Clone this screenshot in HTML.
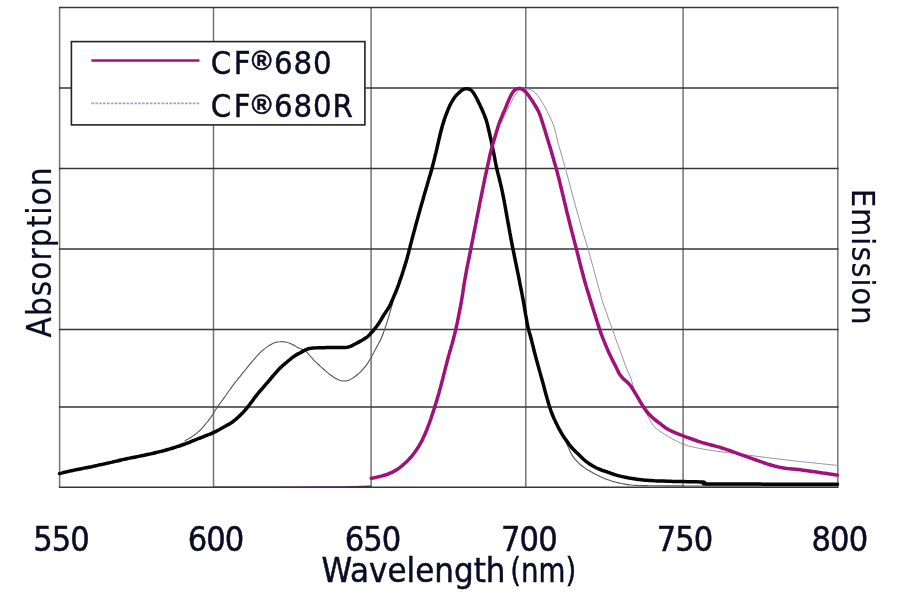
<!DOCTYPE html>
<html><head><meta charset="utf-8"><title>CF680 spectra</title>
<style>
html,body{margin:0;padding:0;background:#fff;}
body{width:900px;height:594px;overflow:hidden;position:relative;}
svg{position:absolute;left:0;top:0;display:block;}
text{font-family:"DejaVu Sans Condensed","DejaVu Sans","Liberation Sans",sans-serif;font-stretch:condensed;fill:#0b0b26;stroke:#0b0b26;stroke-width:0.45px;}
</style></head><body>
<svg width="900" height="594" viewBox="0 0 900 594">
<rect x="0" y="0" width="900" height="594" fill="#fff"/>
<g fill="none">
<line x1="59.6" y1="7.5" x2="59.6" y2="487.3" stroke="#747474" stroke-width="1.5"/>
<line x1="213.5" y1="7.5" x2="213.5" y2="487.3" stroke="#747474" stroke-width="1.5"/>
<line x1="371.1" y1="7.5" x2="371.1" y2="487.3" stroke="#747474" stroke-width="1.5"/>
<line x1="525.8" y1="7.5" x2="525.8" y2="487.3" stroke="#747474" stroke-width="1.5"/>
<line x1="683.1" y1="7.5" x2="683.1" y2="487.3" stroke="#747474" stroke-width="1.5"/>
<line x1="837.8" y1="7.5" x2="837.8" y2="487.3" stroke="#747474" stroke-width="1.5"/>
<line x1="58.9" y1="7.5" x2="838.5" y2="7.5" stroke="#363636" stroke-width="1.5"/>
<line x1="58.9" y1="88.0" x2="838.5" y2="88.0" stroke="#363636" stroke-width="1.5"/>
<line x1="58.9" y1="168.5" x2="838.5" y2="168.5" stroke="#363636" stroke-width="1.5"/>
<line x1="58.9" y1="249.1" x2="838.5" y2="249.1" stroke="#363636" stroke-width="1.5"/>
<line x1="58.9" y1="329.5" x2="838.5" y2="329.5" stroke="#363636" stroke-width="1.5"/>
<line x1="58.9" y1="406.9" x2="838.5" y2="406.9" stroke="#363636" stroke-width="1.5"/>
<line x1="58.9" y1="487.3" x2="838.5" y2="487.3" stroke="#363636" stroke-width="1.5"/>
</g>
<path d="M213.5 487.2 C232.9 487.2 306.4 487.2 330.0 487.1 C353.6 487.0 348.1 486.8 355.0 486.7 C361.9 486.6 368.5 486.4 371.2 486.4" fill="none" stroke="#4a3046" stroke-width="1.6"/>
<path d="M184.5 441.1 C184.9 440.9 186.2 440.1 187.1 439.6 C188.0 439.1 188.8 438.6 189.7 438.1 C190.5 437.5 191.4 437.0 192.2 436.5 C193.0 435.9 193.9 435.3 194.7 434.7 C195.5 434.2 196.3 433.6 197.1 432.9 C197.8 432.3 198.6 431.6 199.3 431.0 C200.0 430.3 200.7 429.6 201.4 428.8 C202.1 428.1 202.7 427.3 203.4 426.6 C204.0 425.8 204.7 425.1 205.3 424.3 C206.0 423.5 206.6 422.7 207.2 422.0 C207.9 421.2 208.5 420.4 209.1 419.6 C209.7 418.8 210.3 418.1 210.9 417.2 C211.5 416.4 212.0 415.6 212.6 414.7 C213.1 413.9 213.6 413.0 214.1 412.2 C214.7 411.3 215.2 410.5 215.7 409.6 C216.3 408.8 216.8 408.0 217.4 407.1 C217.9 406.3 218.5 405.5 219.1 404.7 C219.7 403.9 220.3 403.1 220.8 402.2 C221.4 401.4 222.0 400.6 222.6 399.8 C223.2 399.0 223.8 398.2 224.4 397.4 C224.9 396.6 225.5 395.8 226.1 395.0 C226.7 394.1 227.3 393.3 227.8 392.5 C228.4 391.7 229.0 390.9 229.6 390.0 C230.1 389.2 230.7 388.4 231.3 387.6 C231.9 386.8 232.5 386.0 233.1 385.2 C233.7 384.4 234.3 383.6 234.9 382.8 C235.6 382.0 236.2 381.3 236.8 380.5 C237.4 379.7 238.0 378.9 238.6 378.1 C239.3 377.3 239.9 376.5 240.5 375.8 C241.1 375.0 241.8 374.2 242.4 373.4 C243.0 372.6 243.6 371.9 244.3 371.1 C244.9 370.3 245.5 369.5 246.2 368.8 C246.8 368.0 247.4 367.2 248.1 366.4 C248.7 365.7 249.3 364.9 250.0 364.1 C250.6 363.4 251.3 362.6 251.9 361.8 C252.6 361.1 253.2 360.3 253.8 359.5 C254.5 358.8 255.2 358.0 255.8 357.3 C256.5 356.5 257.2 355.8 257.8 355.1 C258.5 354.3 259.2 353.6 259.9 352.9 C260.6 352.2 261.4 351.5 262.1 350.9 C262.9 350.2 263.6 349.5 264.4 348.9 C265.2 348.3 266.0 347.7 266.8 347.1 C267.6 346.5 268.4 345.9 269.2 345.4 C270.1 344.9 271.0 344.4 271.9 343.9 C272.7 343.5 273.7 343.1 274.6 342.8 C275.5 342.5 276.5 342.2 277.5 342.0 C278.4 341.8 279.4 341.7 280.4 341.7 C281.4 341.6 282.4 341.6 283.4 341.7 C284.4 341.8 285.4 342.0 286.3 342.2 C287.3 342.4 288.3 342.7 289.2 343.1 C290.1 343.4 291.1 343.8 292.0 344.2 C292.8 344.7 293.7 345.2 294.6 345.7 C295.5 346.1 296.3 346.7 297.2 347.2 C298.1 347.6 298.9 348.1 299.8 348.5 C300.8 348.8 301.7 349.1 302.6 349.5 C303.5 349.9 304.4 350.4 305.2 350.9 C305.9 351.5 306.7 352.2 307.4 352.9 C308.1 353.6 308.7 354.4 309.3 355.1 C310.0 355.9 310.6 356.6 311.3 357.4 C312.0 358.1 312.7 358.9 313.3 359.6 C314.0 360.3 314.7 361.0 315.5 361.7 C316.2 362.4 316.9 363.1 317.6 363.8 C318.4 364.5 319.1 365.1 319.8 365.8 C320.6 366.5 321.3 367.2 322.0 367.8 C322.8 368.5 323.5 369.2 324.3 369.8 C325.1 370.5 325.8 371.1 326.6 371.8 C327.3 372.4 328.1 373.0 328.9 373.7 C329.7 374.3 330.5 374.9 331.3 375.5 C332.1 376.1 332.9 376.7 333.7 377.2 C334.6 377.7 335.4 378.2 336.3 378.7 C337.2 379.2 338.1 379.6 339.0 380.0 C340.0 380.3 340.9 380.6 341.9 380.8 C342.8 381.0 343.8 381.1 344.8 381.0 C345.8 381.0 346.7 380.8 347.7 380.5 C348.6 380.2 349.5 379.8 350.4 379.4 C351.3 379.0 352.2 378.4 353.0 377.9 C353.9 377.4 354.7 376.8 355.5 376.2 C356.3 375.6 357.0 374.9 357.8 374.3 C358.6 373.6 359.3 373.0 360.0 372.3 C360.7 371.6 361.5 370.9 362.1 370.2 C362.8 369.4 363.5 368.7 364.1 367.9 C364.8 367.2 365.4 366.4 366.0 365.6 C366.6 364.8 367.1 363.9 367.7 363.1 C368.2 362.3 368.8 361.4 369.3 360.6 C369.8 359.7 370.4 358.9 370.9 358.0 C371.4 357.2 371.9 356.3 372.3 355.4 C372.8 354.5 373.2 353.6 373.7 352.7 C374.1 351.8 374.6 351.0 375.1 350.1 C375.5 349.2 376.0 348.3 376.5 347.4 C377.0 346.6 377.5 345.7 377.9 344.8 C378.4 343.9 378.9 343.0 379.3 342.2 C379.8 341.3 380.3 340.4 380.7 339.5 C381.1 338.6 381.5 337.7 381.9 336.7 C382.3 335.8 382.7 334.9 383.0 334.0 C383.4 333.0 383.7 332.1 384.0 331.1 C384.4 330.2 384.7 329.2 385.0 328.3 C385.3 327.4 385.7 326.4 386.0 325.5 C386.3 324.5 386.6 323.6 386.9 322.6 C387.2 321.7 387.5 320.7 387.8 319.7 C388.1 318.8 388.4 317.8 388.7 316.9 C388.9 315.9 389.2 314.9 389.5 314.0 C389.8 313.0 390.1 312.1 390.3 311.1 C390.6 310.1 390.9 309.2 391.2 308.2 C391.5 307.3 391.7 306.3 392.0 305.3 C392.3 304.4 392.6 303.4 392.8 302.5 C393.1 301.5 393.3 300.5 393.6 299.6 C393.8 298.6 394.1 297.6 394.3 296.7 C394.6 295.7 394.9 294.7 395.2 293.8 C395.4 292.8 395.7 291.9 396.1 290.9 C396.4 290.0 396.7 289.0 397.0 288.1 C397.4 287.1 397.7 286.2 398.1 285.3 C398.4 284.3 398.8 283.4 399.2 282.5 C399.5 281.5 399.9 280.6 400.2 279.7 C400.6 278.7 400.9 277.8 401.2 276.8 C401.6 275.9 401.9 274.9 402.2 274.0 C402.5 273.1 402.9 272.1 403.2 271.2 C403.5 270.2 403.8 269.2 404.1 268.3 C404.3 267.3 404.6 266.4 404.9 265.4 C405.2 264.5 405.5 263.5 405.7 262.5 C406.0 261.6 406.3 260.6 406.5 259.6 C406.8 258.7 407.1 257.7 407.3 256.7 C407.6 255.8 407.9 254.8 408.1 253.9 C408.4 252.9 408.6 251.9 408.9 251.0 C409.2 250.0 409.4 249.0 409.7 248.1 C409.9 247.1 410.2 246.1 410.4 245.2 C410.7 244.2 411.0 243.2 411.2 242.3 C411.5 241.3 411.7 240.3 412.0 239.4 C412.2 238.4 412.5 237.4 412.8 236.5 C413.0 235.5 413.3 234.5 413.5 233.6 C413.8 232.6 414.0 231.6 414.3 230.7 C414.6 229.7 414.8 228.7 415.1 227.8 C415.4 226.8 415.6 225.8 415.9 224.9 C416.1 223.9 416.4 222.9 416.7 222.0 C416.9 221.0 417.2 220.0 417.4 219.1 C417.7 218.1 418.0 217.1 418.2 216.2 C418.5 215.2 418.8 214.3 419.0 213.3 C419.3 212.3 419.5 211.4 419.8 210.4 C420.1 209.4 420.3 208.5 420.6 207.5 C420.8 206.5 421.1 205.6 421.4 204.6 C421.6 203.6 421.9 202.7 422.2 201.7 C422.4 200.7 422.7 199.8 422.9 198.8 C423.2 197.8 423.5 196.9 423.7 195.9 C424.0 195.0 424.3 194.0 424.5 193.0 C424.8 192.1 425.0 191.1 425.3 190.1 C425.6 189.2 425.8 188.2 426.1 187.2 C426.4 186.3 426.6 185.3 426.9 184.3 C427.2 183.4 427.4 182.4 427.7 181.5 C428.0 180.5 428.2 179.5 428.5 178.6 C428.8 177.6 429.0 176.6 429.3 175.7 C429.6 174.7 429.8 173.7 430.1 172.8 C430.4 171.8 430.7 170.9 430.9 169.9 C431.2 168.9 431.5 168.0 431.7 167.0 C432.0 166.0 432.3 165.1 432.6 164.1 C432.8 163.2 433.1 162.2 433.4 161.2 C433.7 160.3 433.9 159.3 434.2 158.4 C434.5 157.4 434.8 156.4 435.0 155.5 C435.3 154.5 435.6 153.5 435.9 152.6 C436.1 151.6 436.4 150.7 436.7 149.7 C437.0 148.7 437.3 147.8 437.5 146.8 C437.8 145.9 438.1 144.9 438.4 143.9 C438.6 143.0 438.9 142.0 439.2 141.1 C439.5 140.1 439.8 139.1 440.0 138.2 C440.3 137.2 440.6 136.3 440.9 135.3 C441.1 134.3 441.4 133.4 441.7 132.4 C442.0 131.4 442.2 130.5 442.5 129.5 C442.8 128.6 443.1 127.6 443.3 126.6 C443.6 125.7 443.9 124.7 444.2 123.8 C444.5 122.8 444.7 121.8 445.0 120.9 C445.3 119.9 445.6 119.0 445.9 118.0 C446.2 117.1 446.5 116.1 446.8 115.1 C447.1 114.2 447.4 113.2 447.7 112.3 C448.0 111.3 448.3 110.4 448.6 109.4 C449.0 108.5 449.3 107.6 449.7 106.6 C450.0 105.7 450.4 104.8 450.8 103.8 C451.2 102.9 451.6 102.0 452.1 101.2 C452.6 100.3 453.1 99.4 453.7 98.6 C454.2 97.8 454.8 97.0 455.4 96.2 C456.1 95.4 456.7 94.7 457.4 93.9 C458.1 93.2 458.8 92.5 459.6 91.9 C460.3 91.2 461.1 90.5 461.9 90.0 C462.7 89.5 463.6 88.9 464.4 88.6 C465.3 88.4 466.2 88.2 467.1 88.3 C468.0 88.5 468.9 88.9 469.7 89.4 C470.4 89.9 471.2 90.6 471.9 91.3 C472.5 92.0 473.2 92.8 473.7 93.6 C474.3 94.4 474.9 95.3 475.4 96.1 C475.9 97.0 476.4 97.8 476.9 98.7 C477.4 99.6 477.9 100.5 478.3 101.4 C478.8 102.2 479.2 103.1 479.7 104.0 C480.1 104.9 480.5 105.9 480.9 106.8 C481.3 107.7 481.7 108.6 482.1 109.5 C482.5 110.5 482.8 111.4 483.2 112.3 C483.5 113.3 483.9 114.2 484.2 115.1 C484.5 116.1 484.9 117.0 485.2 118.0 C485.5 118.9 485.8 119.9 486.1 120.8 C486.4 121.8 486.6 122.8 486.9 123.7 C487.2 124.7 487.4 125.7 487.7 126.6 C488.0 127.6 488.2 128.5 488.5 129.5 C488.7 130.5 489.0 131.5 489.2 132.4 C489.5 133.4 489.7 134.4 489.9 135.3 C490.2 136.3 490.4 137.3 490.6 138.3 C490.8 139.2 491.0 140.2 491.3 141.2 C491.5 142.2 491.7 143.1 491.9 144.1 C492.1 145.1 492.3 146.1 492.5 147.1 C492.7 148.0 492.9 149.0 493.0 150.0 C493.2 151.0 493.4 152.0 493.6 153.0 C493.8 153.9 494.0 154.9 494.2 155.9 C494.4 156.9 494.6 157.9 494.8 158.8 C495.0 159.8 495.2 160.8 495.4 161.8 C495.6 162.8 495.7 163.7 496.0 164.7 C496.2 165.7 496.4 166.7 496.6 167.7 C496.8 168.6 497.0 169.6 497.2 170.6 C497.4 171.6 497.7 172.5 497.9 173.5 C498.1 174.5 498.4 175.5 498.6 176.4 C498.8 177.4 499.1 178.4 499.3 179.3 C499.5 180.3 499.8 181.3 500.0 182.3 C500.3 183.2 500.5 184.2 500.7 185.2 C501.0 186.1 501.2 187.1 501.4 188.1 C501.6 189.1 501.9 190.0 502.1 191.0 C502.3 192.0 502.5 193.0 502.7 193.9 C502.9 194.9 503.1 195.9 503.3 196.9 C503.5 197.9 503.7 198.8 503.9 199.8 C504.1 200.8 504.3 201.8 504.5 202.8 C504.7 203.8 504.9 204.7 505.1 205.7 C505.3 206.7 505.4 207.7 505.6 208.7 C505.8 209.6 506.0 210.6 506.2 211.6 C506.3 212.6 506.5 213.6 506.7 214.6 C506.9 215.6 507.1 216.5 507.2 217.5 C507.4 218.5 507.6 219.5 507.8 220.5 C507.9 221.5 508.1 222.4 508.3 223.4 C508.5 224.4 508.6 225.4 508.8 226.4 C509.0 227.4 509.2 228.3 509.3 229.3 C509.5 230.3 509.7 231.3 509.9 232.3 C510.0 233.3 510.2 234.3 510.4 235.2 C510.6 236.2 510.8 237.2 510.9 238.2 C511.1 239.2 511.3 240.2 511.5 241.1 C511.7 242.1 511.8 243.1 512.0 244.1 C512.2 245.1 512.4 246.1 512.6 247.0 C512.8 248.0 513.0 249.0 513.1 250.0 C513.3 251.0 513.5 251.9 513.7 252.9 C513.9 253.9 514.1 254.9 514.3 255.9 C514.5 256.9 514.7 257.8 514.9 258.8 C515.1 259.8 515.3 260.8 515.5 261.8 C515.7 262.7 515.8 263.7 516.0 264.7 C516.2 265.7 516.4 266.7 516.6 267.6 C516.8 268.6 517.0 269.6 517.2 270.6 C517.4 271.6 517.6 272.5 517.8 273.5 C518.0 274.5 518.2 275.5 518.4 276.5 C518.6 277.4 518.8 278.4 519.0 279.4 C519.2 280.4 519.4 281.4 519.6 282.3 C519.8 283.3 520.0 284.3 520.2 285.3 C520.4 286.3 520.6 287.2 520.8 288.2 C521.0 289.2 521.2 290.2 521.4 291.2 C521.6 292.1 521.8 293.1 522.0 294.1 C522.2 295.1 522.4 296.1 522.6 297.1 C522.8 298.0 523.0 299.0 523.2 300.0 C523.3 301.0 523.5 302.0 523.7 302.9 C523.9 303.9 524.1 304.9 524.3 305.9 C524.5 306.9 524.7 307.9 524.8 308.8 C525.0 309.8 525.2 310.8 525.4 311.8 C525.6 312.8 525.8 313.7 525.9 314.7 C526.1 315.7 526.3 316.7 526.5 317.7 C526.7 318.7 526.9 319.6 527.1 320.6 C527.3 321.6 527.5 322.6 527.7 323.6 C527.8 324.5 528.1 325.5 528.3 326.5 C528.5 327.5 528.7 328.5 528.9 329.4 C529.1 330.4 529.3 331.4 529.6 332.4 C529.8 333.3 530.0 334.3 530.2 335.3 C530.5 336.3 530.7 337.2 530.9 338.2 C531.2 339.2 531.4 340.1 531.7 341.1 C531.9 342.1 532.2 343.0 532.4 344.0 C532.7 345.0 532.9 346.0 533.2 346.9 C533.4 347.9 533.7 348.9 533.9 349.8 C534.2 350.8 534.4 351.8 534.7 352.7 C535.0 353.7 535.2 354.7 535.5 355.6 C535.7 356.6 536.0 357.6 536.2 358.5 C536.5 359.5 536.8 360.5 537.0 361.4 C537.3 362.4 537.6 363.3 537.8 364.3 C538.1 365.3 538.3 366.2 538.6 367.2 C538.9 368.2 539.1 369.1 539.4 370.1 C539.7 371.1 539.9 372.0 540.2 373.0 C540.5 374.0 540.7 374.9 541.0 375.9 C541.2 376.9 541.5 377.8 541.8 378.8 C542.0 379.7 542.3 380.7 542.6 381.7 C542.8 382.6 543.1 383.6 543.3 384.6 C543.6 385.5 543.8 386.5 544.1 387.5 C544.4 388.4 544.6 389.4 544.9 390.4 C545.1 391.3 545.4 392.3 545.7 393.3 C545.9 394.2 546.2 395.2 546.4 396.2 C546.7 397.1 547.0 398.1 547.2 399.1 C547.5 400.0 547.8 401.0 548.1 401.9 C548.4 402.9 548.6 403.9 548.9 404.8 C549.2 405.8 549.5 406.7 549.8 407.7 C550.2 408.6 550.5 409.6 550.8 410.5 C551.2 411.4 551.5 412.4 551.9 413.3 C552.2 414.2 552.6 415.2 553.0 416.1 C553.4 417.0 553.8 417.9 554.2 418.8 C554.6 419.8 555.0 420.7 555.4 421.6 C555.9 422.5 556.3 423.4 556.7 424.3 C557.2 425.2 557.6 426.1 558.1 427.0 C558.5 427.9 559.0 428.7 559.5 429.6 C559.9 430.5 560.4 431.4 560.9 432.3 C561.3 433.1 561.8 434.0 562.3 434.9 C562.8 435.8 563.2 436.7 563.7 437.6 C564.2 438.4 564.6 439.3 565.1 440.2 C565.5 441.1 566.0 442.0 566.4 442.9 C566.8 443.8 567.2 444.7 567.6 445.7 C568.0 446.6 568.4 447.5 568.8 448.4 C569.2 449.3 569.5 450.3 570.0 451.2 C570.4 452.1 570.8 453.0 571.3 453.8 C571.8 454.7 572.4 455.5 572.9 456.4 C573.5 457.2 574.1 458.0 574.7 458.8 C575.4 459.5 576.0 460.3 576.7 461.0 C577.4 461.8 578.0 462.5 578.8 463.2 C579.5 463.9 580.2 464.5 581.0 465.2 C581.8 465.8 582.6 466.4 583.4 467.0 C584.2 467.6 585.0 468.1 585.8 468.7 C586.7 469.2 587.5 469.7 588.4 470.3 C589.3 470.8 590.1 471.3 591.0 471.8 C591.9 472.3 592.7 472.7 593.6 473.2 C594.5 473.7 595.4 474.1 596.3 474.6 C597.2 475.0 598.1 475.5 599.0 475.9 C599.9 476.3 600.8 476.7 601.7 477.2 C602.6 477.6 603.5 478.0 604.5 478.4 C605.4 478.7 606.3 479.1 607.2 479.5 C608.2 479.8 609.1 480.2 610.1 480.5 C611.0 480.8 612.0 481.1 612.9 481.4 C613.9 481.7 614.8 481.9 615.8 482.2 C616.8 482.5 617.7 482.7 618.7 482.9 C619.7 483.1 620.7 483.3 621.7 483.5 C622.6 483.7 623.6 483.9 624.6 484.1 C625.6 484.3 626.6 484.5 627.5 484.6 C628.5 484.8 629.5 484.9 630.5 485.0 C631.5 485.1 632.5 485.2 633.5 485.2 C634.5 485.3 635.5 485.3 636.5 485.4 C637.5 485.4 638.5 485.5 639.5 485.5 C640.5 485.5 641.5 485.5 642.5 485.6 C643.5 485.6 644.5 485.6 645.5 485.6 C646.5 485.6 647.5 485.7 648.5 485.7 C649.5 485.7 650.5 485.7 651.5 485.7 C652.5 485.7 653.5 485.8 654.5 485.8 C655.5 485.8 656.5 485.8 657.5 485.8 C658.5 485.8 659.5 485.8 660.5 485.8 C661.5 485.8 662.5 485.8 663.5 485.9 C664.5 485.9 665.5 485.9 666.5 485.9 C667.5 485.9 668.5 485.9 669.5 485.9 C670.5 485.9 671.5 485.9 672.5 485.9 C673.5 485.9 674.5 485.9 675.5 485.9 C676.5 485.9 677.5 485.9 678.5 485.9 C679.5 485.9 680.5 485.9 681.5 485.9 C682.5 485.9 683.5 486.0 684.5 486.0 C685.5 486.0 686.5 486.0 687.5 486.0 C688.5 486.0 689.5 486.0 690.5 486.0 C691.5 486.0 692.5 486.0 693.5 486.0 C694.5 486.0 695.5 486.0 696.5 486.0 C697.5 486.0 698.5 486.0 699.5 486.0 C700.5 486.0 701.5 486.0 702.5 486.0 C703.5 486.0 704.5 486.0 705.5 486.0 C706.5 486.0 707.5 486.0 708.5 486.0 C709.5 486.0 710.5 486.0 711.5 486.0 C712.5 486.0 713.5 486.0 714.5 486.0 C715.5 486.0 716.5 486.0 717.5 486.0 C718.5 486.0 719.5 486.0 720.5 486.0 C721.5 486.0 722.5 486.0 723.5 486.0 C724.5 486.0 725.5 486.0 726.5 486.0 C727.5 486.0 728.5 486.0 729.5 486.0 C730.5 486.0 731.5 486.0 732.5 486.0 C733.5 486.0 734.5 486.0 735.5 486.0 C736.5 486.0 737.5 486.0 738.5 486.0 C739.5 486.0 740.5 486.0 741.5 486.0 C742.5 486.0 743.5 486.0 744.5 486.0 C745.5 486.0 746.5 486.0 747.5 486.0 C748.5 486.0 749.5 486.0 750.5 486.0 C751.5 486.0 752.5 486.0 753.5 486.0 C754.5 486.0 755.5 486.0 756.5 486.0 C757.5 486.0 758.5 486.0 759.5 486.0 C760.5 486.0 761.5 486.0 762.5 486.0 C763.5 486.0 764.5 486.0 765.5 486.0 C766.5 486.0 767.5 486.0 768.5 486.0 C769.5 486.0 770.5 486.0 771.5 486.0 C772.5 486.0 773.5 486.0 774.5 486.0 C775.5 486.0 776.5 486.0 777.5 486.0 C778.5 486.0 779.5 486.0 780.5 486.0 C781.5 486.0 782.5 486.0 783.5 486.0 C784.5 486.0 785.5 486.0 786.5 486.0 C787.5 486.0 788.5 486.0 789.5 486.0 C790.5 486.0 791.5 486.0 792.5 486.0 C793.5 486.0 794.5 486.0 795.5 486.0 C796.5 486.0 797.5 486.0 798.5 486.0 C799.5 486.0 800.5 486.0 801.5 486.0 C802.5 486.0 803.5 486.0 804.5 486.0 C805.5 486.0 806.5 486.0 807.5 486.0 C808.5 486.0 809.5 486.0 810.5 486.0 C811.5 486.0 812.5 486.0 813.5 486.0 C814.5 486.0 815.5 486.0 816.5 486.0 C817.5 486.0 818.5 486.0 819.5 486.0 C820.5 486.0 821.5 486.0 822.5 486.0 C823.5 486.0 824.5 486.0 825.5 486.0 C826.5 486.0 827.5 486.0 828.5 486.0 C829.5 486.0 830.5 486.0 831.5 486.0 C832.5 486.0 833.5 486.0 834.5 486.0 C835.5 486.0 837.0 486.0 837.5 486.0" fill="none" stroke="#555" stroke-width="1.1"/>
<path d="M494.1 140.0 C494.2 139.5 494.7 138.1 494.9 137.1 C495.2 136.2 495.5 135.2 495.8 134.2 C496.1 133.3 496.3 132.3 496.6 131.4 C496.9 130.4 497.2 129.4 497.5 128.5 C497.8 127.6 498.2 126.7 498.6 125.9 C499.1 125.1 499.6 124.5 500.1 123.7 C500.6 123.0 501.2 122.2 501.7 121.4 C502.2 120.6 502.6 119.7 503.1 118.8 C503.5 117.9 504.0 117.0 504.4 116.1 C504.8 115.2 505.3 114.3 505.7 113.4 C506.1 112.5 506.6 111.6 507.0 110.7 C507.5 109.8 507.9 108.9 508.3 108.0 C508.8 107.1 509.2 106.2 509.6 105.3 C510.1 104.4 510.5 103.5 511.0 102.6 C511.4 101.7 511.9 100.9 512.3 100.0 C512.8 99.1 513.2 98.2 513.7 97.3 C514.2 96.5 514.7 95.6 515.3 94.8 C515.8 93.9 516.4 93.1 517.1 92.4 C517.8 91.7 518.5 91.0 519.3 90.5 C520.1 90.0 521.0 89.6 522.0 89.3 C522.9 89.0 523.9 88.9 524.8 88.8 C525.8 88.8 526.8 88.8 527.8 89.0 C528.8 89.1 529.7 89.4 530.6 89.7 C531.5 90.1 532.4 90.6 533.2 91.1 C534.0 91.7 534.8 92.4 535.5 93.1 C536.2 93.8 536.8 94.5 537.4 95.3 C538.0 96.1 538.6 96.9 539.2 97.7 C539.8 98.5 540.3 99.4 540.9 100.2 C541.4 101.0 542.0 101.9 542.5 102.7 C543.0 103.6 543.5 104.4 544.0 105.3 C544.5 106.2 545.0 107.1 545.4 108.0 C545.9 108.8 546.3 109.7 546.8 110.6 C547.3 111.5 547.7 112.4 548.1 113.3 C548.6 114.2 549.0 115.1 549.5 116.0 C549.9 116.9 550.3 117.8 550.7 118.7 C551.2 119.6 551.6 120.5 552.0 121.4 C552.4 122.4 552.8 123.3 553.1 124.2 C553.5 125.1 553.8 126.1 554.1 127.0 C554.5 128.0 554.8 128.9 555.0 129.9 C555.3 130.9 555.5 131.8 555.8 132.8 C556.0 133.8 556.2 134.8 556.4 135.7 C556.6 136.7 556.8 137.7 557.1 138.7 C557.3 139.6 557.5 140.6 557.7 141.6 C558.0 142.6 558.2 143.5 558.5 144.5 C558.8 145.4 559.0 146.4 559.3 147.4 C559.6 148.3 559.9 149.3 560.2 150.2 C560.5 151.2 560.7 152.2 561.0 153.1 C561.3 154.1 561.6 155.0 561.9 156.0 C562.1 157.0 562.4 157.9 562.7 158.9 C563.0 159.8 563.3 160.8 563.5 161.8 C563.8 162.7 564.1 163.7 564.3 164.7 C564.6 165.6 564.9 166.6 565.2 167.5 C565.4 168.5 565.7 169.5 565.9 170.4 C566.2 171.4 566.5 172.4 566.7 173.3 C567.0 174.3 567.2 175.3 567.5 176.2 C567.8 177.2 568.0 178.2 568.3 179.1 C568.5 180.1 568.8 181.1 569.1 182.0 C569.3 183.0 569.6 184.0 569.8 184.9 C570.1 185.9 570.3 186.9 570.6 187.8 C570.9 188.8 571.1 189.8 571.4 190.7 C571.6 191.7 571.9 192.7 572.1 193.6 C572.4 194.6 572.7 195.6 572.9 196.5 C573.2 197.5 573.4 198.4 573.7 199.4 C574.0 200.4 574.2 201.3 574.5 202.3 C574.8 203.3 575.0 204.2 575.3 205.2 C575.5 206.2 575.8 207.1 576.1 208.1 C576.3 209.1 576.6 210.0 576.9 211.0 C577.1 212.0 577.4 212.9 577.7 213.9 C577.9 214.8 578.2 215.8 578.5 216.8 C578.7 217.7 579.0 218.7 579.3 219.7 C579.6 220.6 579.8 221.6 580.1 222.5 C580.4 223.5 580.7 224.5 581.0 225.4 C581.2 226.4 581.5 227.3 581.8 228.3 C582.1 229.3 582.4 230.2 582.7 231.2 C583.0 232.1 583.3 233.1 583.5 234.0 C583.8 235.0 584.1 236.0 584.4 236.9 C584.7 237.9 585.0 238.8 585.3 239.8 C585.6 240.7 585.9 241.7 586.2 242.7 C586.5 243.6 586.7 244.6 587.0 245.5 C587.3 246.5 587.6 247.4 587.9 248.4 C588.1 249.4 588.4 250.3 588.7 251.3 C589.0 252.2 589.2 253.2 589.5 254.2 C589.8 255.1 590.1 256.1 590.3 257.1 C590.6 258.0 590.9 259.0 591.1 260.0 C591.4 260.9 591.6 261.9 591.9 262.8 C592.2 263.8 592.4 264.8 592.7 265.7 C593.0 266.7 593.2 267.7 593.5 268.6 C593.8 269.6 594.0 270.6 594.3 271.5 C594.6 272.5 594.8 273.5 595.1 274.4 C595.3 275.4 595.6 276.4 595.9 277.3 C596.1 278.3 596.4 279.2 596.6 280.2 C596.9 281.2 597.2 282.1 597.4 283.1 C597.7 284.1 597.9 285.0 598.2 286.0 C598.5 287.0 598.7 287.9 599.0 288.9 C599.2 289.9 599.5 290.8 599.8 291.8 C600.0 292.8 600.3 293.7 600.6 294.7 C600.8 295.7 601.1 296.6 601.4 297.6 C601.7 298.5 602.0 299.5 602.2 300.5 C602.5 301.4 602.8 302.4 603.1 303.3 C603.4 304.3 603.8 305.2 604.1 306.2 C604.4 307.1 604.7 308.1 605.1 309.0 C605.4 309.9 605.7 310.9 606.1 311.8 C606.4 312.8 606.7 313.7 607.1 314.6 C607.4 315.6 607.8 316.5 608.1 317.5 C608.4 318.4 608.8 319.4 609.1 320.3 C609.4 321.2 609.8 322.2 610.1 323.1 C610.5 324.1 610.8 325.0 611.1 325.9 C611.5 326.9 611.8 327.8 612.2 328.8 C612.5 329.7 612.8 330.6 613.2 331.6 C613.5 332.5 613.8 333.5 614.2 334.4 C614.5 335.4 614.8 336.3 615.2 337.2 C615.5 338.2 615.8 339.1 616.2 340.1 C616.5 341.0 616.9 341.9 617.2 342.9 C617.6 343.8 617.9 344.8 618.3 345.7 C618.6 346.6 619.0 347.6 619.3 348.5 C619.7 349.4 620.1 350.4 620.4 351.3 C620.8 352.2 621.1 353.2 621.4 354.1 C621.8 355.1 622.1 356.0 622.4 356.9 C622.8 357.9 623.1 358.8 623.4 359.8 C623.7 360.7 624.0 361.7 624.3 362.6 C624.7 363.6 625.0 364.5 625.4 365.4 C625.7 366.4 626.1 367.3 626.5 368.2 C626.9 369.1 627.3 370.0 627.7 371.0 C628.2 371.9 628.6 372.8 629.0 373.7 C629.4 374.6 629.8 375.5 630.1 376.5 C630.5 377.4 630.9 378.3 631.2 379.3 C631.5 380.2 631.8 381.2 632.0 382.1 C632.3 383.1 632.5 384.1 632.8 385.0 C633.0 386.0 633.2 387.0 633.5 387.9 C633.8 388.9 634.0 389.9 634.4 390.8 C634.7 391.7 635.1 392.7 635.6 393.6 C636.0 394.4 636.5 395.3 637.0 396.2 C637.5 397.0 638.0 397.9 638.5 398.8 C639.0 399.6 639.5 400.5 640.0 401.4 C640.5 402.2 640.9 403.1 641.4 404.0 C641.9 404.9 642.3 405.8 642.8 406.7 C643.3 407.5 643.8 408.4 644.2 409.3 C644.7 410.2 645.1 411.1 645.6 412.0 C646.1 412.9 646.5 413.7 647.0 414.6 C647.5 415.5 647.9 416.4 648.4 417.3 C648.9 418.1 649.4 419.0 649.9 419.9 C650.4 420.8 650.8 421.6 651.3 422.5 C651.8 423.4 652.3 424.2 652.9 425.0 C653.5 425.8 654.1 426.6 654.8 427.3 C655.5 428.0 656.3 428.6 657.1 429.2 C657.9 429.8 658.7 430.4 659.5 431.0 C660.3 431.5 661.2 432.1 662.0 432.6 C662.8 433.2 663.7 433.7 664.5 434.3 C665.4 434.8 666.2 435.3 667.1 435.8 C667.9 436.4 668.8 436.9 669.7 437.4 C670.5 437.9 671.4 438.4 672.3 438.9 C673.1 439.4 674.0 439.8 674.9 440.3 C675.8 440.8 676.7 441.2 677.6 441.6 C678.5 442.1 679.4 442.5 680.3 442.9 C681.2 443.3 682.1 443.7 683.1 444.0 C684.0 444.4 684.9 444.7 685.9 445.1 C686.8 445.4 687.8 445.7 688.8 446.0 C689.7 446.2 690.7 446.5 691.6 446.7 C692.6 447.0 693.6 447.2 694.6 447.4 C695.5 447.6 696.5 447.8 697.5 448.0 C698.5 448.2 699.5 448.4 700.5 448.6 C701.4 448.7 702.4 448.9 703.4 449.1 C704.4 449.3 705.4 449.5 706.4 449.6 C707.3 449.8 708.3 450.0 709.3 450.1 C710.3 450.3 711.3 450.4 712.3 450.6 C713.3 450.7 714.3 450.9 715.3 451.0 C716.2 451.2 717.2 451.3 718.2 451.4 C719.2 451.5 720.2 451.7 721.2 451.8 C722.2 451.9 723.2 452.1 724.2 452.2 C725.2 452.3 726.2 452.4 727.2 452.5 C728.1 452.7 729.1 452.8 730.1 452.9 C731.1 453.0 732.1 453.1 733.1 453.3 C734.1 453.4 735.1 453.5 736.1 453.6 C737.1 453.8 738.1 453.9 739.1 454.0 C740.1 454.1 741.1 454.3 742.0 454.4 C743.0 454.5 744.0 454.6 745.0 454.8 C746.0 454.9 747.0 455.0 748.0 455.1 C749.0 455.3 750.0 455.4 751.0 455.5 C752.0 455.7 753.0 455.8 753.9 455.9 C754.9 456.0 755.9 456.2 756.9 456.3 C757.9 456.4 758.9 456.5 759.9 456.7 C760.9 456.8 761.9 456.9 762.9 457.0 C763.9 457.2 764.9 457.3 765.8 457.4 C766.8 457.6 767.8 457.7 768.8 457.8 C769.8 457.9 770.8 458.0 771.8 458.2 C772.8 458.3 773.8 458.4 774.8 458.5 C775.8 458.7 776.8 458.8 777.8 458.9 C778.7 459.0 779.7 459.2 780.7 459.3 C781.7 459.4 782.7 459.5 783.7 459.6 C784.7 459.7 785.7 459.9 786.7 460.0 C787.7 460.1 788.7 460.2 789.7 460.3 C790.7 460.4 791.7 460.6 792.7 460.7 C793.6 460.8 794.6 460.9 795.6 461.0 C796.6 461.1 797.6 461.2 798.6 461.3 C799.6 461.5 800.6 461.6 801.6 461.7 C802.6 461.8 803.6 461.9 804.6 462.0 C805.6 462.1 806.6 462.2 807.6 462.3 C808.6 462.4 809.6 462.5 810.5 462.6 C811.5 462.7 812.5 462.8 813.5 462.9 C814.5 463.0 815.5 463.1 816.5 463.2 C817.5 463.3 818.5 463.4 819.5 463.5 C820.5 463.6 821.5 463.8 822.5 463.9 C823.5 464.0 824.5 464.1 825.5 464.2 C826.5 464.3 827.5 464.4 828.5 464.5 C829.4 464.6 830.4 464.7 831.4 464.8 C832.4 464.9 833.4 465.0 834.4 465.1 C835.4 465.2 836.9 465.3 837.4 465.4" fill="none" stroke="#9a8fa2" stroke-width="1.0"/>
<path d="M59.5 473.6 C60.0 473.5 61.4 473.1 62.4 472.9 C63.4 472.6 64.4 472.4 65.3 472.2 C66.3 471.9 67.3 471.7 68.2 471.5 C69.2 471.2 70.2 471.0 71.2 470.8 C72.1 470.6 73.1 470.3 74.1 470.1 C75.1 469.9 76.1 469.7 77.0 469.5 C78.0 469.3 79.0 469.2 80.0 469.0 C81.0 468.8 81.9 468.6 82.9 468.4 C83.9 468.2 84.9 468.0 85.9 467.8 C86.9 467.6 87.8 467.5 88.8 467.3 C89.8 467.1 90.8 466.9 91.8 466.7 C92.7 466.4 93.7 466.2 94.7 466.0 C95.7 465.8 96.6 465.6 97.6 465.4 C98.6 465.2 99.6 465.0 100.5 464.7 C101.5 464.5 102.5 464.3 103.5 464.1 C104.5 463.9 105.4 463.6 106.4 463.4 C107.4 463.2 108.4 463.0 109.3 462.8 C110.3 462.5 111.3 462.3 112.3 462.1 C113.2 461.9 114.2 461.6 115.2 461.4 C116.1 461.2 117.1 460.9 118.1 460.7 C119.1 460.5 120.0 460.3 121.0 460.0 C122.0 459.8 123.0 459.6 123.9 459.4 C124.9 459.2 125.9 459.0 126.9 458.7 C127.9 458.5 128.8 458.3 129.8 458.1 C130.8 457.9 131.8 457.7 132.8 457.5 C133.7 457.3 134.7 457.2 135.7 457.0 C136.7 456.8 137.7 456.6 138.6 456.4 C139.6 456.2 140.6 456.0 141.6 455.8 C142.6 455.6 143.5 455.4 144.5 455.2 C145.5 455.0 146.5 454.7 147.4 454.5 C148.4 454.3 149.4 454.1 150.4 453.9 C151.3 453.7 152.3 453.4 153.3 453.2 C154.3 453.0 155.2 452.8 156.2 452.5 C157.2 452.3 158.2 452.1 159.1 451.8 C160.1 451.6 161.1 451.3 162.0 451.1 C163.0 450.8 164.0 450.6 164.9 450.3 C165.9 450.0 166.9 449.8 167.8 449.5 C168.8 449.2 169.7 448.9 170.7 448.6 C171.7 448.4 172.6 448.1 173.6 447.8 C174.5 447.5 175.5 447.2 176.4 446.9 C177.4 446.6 178.3 446.3 179.3 446.0 C180.2 445.7 181.2 445.3 182.1 445.0 C183.1 444.7 184.0 444.3 185.0 444.0 C185.9 443.6 186.8 443.3 187.8 442.9 C188.7 442.6 189.6 442.2 190.5 441.8 C191.5 441.4 192.4 441.1 193.3 440.7 C194.3 440.3 195.2 439.9 196.1 439.6 C197.0 439.2 198.0 438.8 198.9 438.4 C199.8 438.1 200.8 437.7 201.7 437.3 C202.6 437.0 203.5 436.6 204.5 436.2 C205.4 435.9 206.3 435.5 207.3 435.1 C208.2 434.8 209.1 434.4 210.1 434.1 C211.0 433.7 211.9 433.3 212.8 432.9 C213.7 432.5 214.6 432.0 215.5 431.6 C216.4 431.1 217.3 430.7 218.2 430.2 C219.0 429.7 219.9 429.2 220.8 428.7 C221.7 428.2 222.5 427.7 223.4 427.3 C224.3 426.8 225.2 426.3 226.1 425.8 C226.9 425.4 227.8 424.9 228.7 424.4 C229.5 423.9 230.4 423.4 231.2 422.8 C232.0 422.2 232.9 421.7 233.6 421.0 C234.4 420.4 235.2 419.8 236.0 419.2 C236.7 418.5 237.5 417.8 238.2 417.2 C238.9 416.5 239.7 415.8 240.4 415.1 C241.1 414.4 241.8 413.7 242.5 413.0 C243.2 412.2 243.9 411.5 244.5 410.8 C245.2 410.0 245.8 409.3 246.5 408.5 C247.1 407.7 247.8 406.9 248.4 406.2 C249.0 405.4 249.6 404.6 250.2 403.8 C250.8 403.0 251.4 402.2 252.0 401.4 C252.6 400.6 253.2 399.7 253.8 398.9 C254.3 398.1 254.9 397.3 255.6 396.6 C256.2 395.8 256.8 395.0 257.4 394.2 C258.0 393.4 258.7 392.7 259.3 391.9 C260.0 391.1 260.6 390.4 261.3 389.6 C261.9 388.9 262.6 388.1 263.3 387.3 C263.9 386.6 264.6 385.8 265.2 385.1 C265.9 384.3 266.5 383.6 267.2 382.8 C267.8 382.1 268.5 381.3 269.1 380.5 C269.8 379.8 270.4 379.0 271.1 378.2 C271.7 377.5 272.4 376.7 273.0 375.9 C273.6 375.2 274.3 374.4 274.9 373.7 C275.6 372.9 276.2 372.1 276.9 371.4 C277.6 370.6 278.2 369.9 278.9 369.2 C279.6 368.4 280.3 367.7 281.0 367.1 C281.8 366.4 282.5 365.7 283.3 365.1 C284.0 364.4 284.8 363.8 285.6 363.1 C286.3 362.5 287.1 361.9 287.9 361.2 C288.7 360.6 289.4 359.9 290.2 359.3 C291.0 358.7 291.7 358.0 292.5 357.4 C293.3 356.8 294.1 356.2 294.9 355.7 C295.8 355.1 296.6 354.6 297.5 354.1 C298.4 353.6 299.3 353.2 300.2 352.8 C301.1 352.3 301.9 351.9 302.8 351.4 C303.7 350.9 304.5 350.3 305.4 349.9 C306.3 349.5 307.2 349.1 308.1 348.8 C309.1 348.5 310.0 348.3 311.0 348.2 C312.0 348.0 313.0 348.0 314.0 347.9 C315.0 347.8 316.0 347.8 317.0 347.8 C318.0 347.7 319.0 347.7 320.0 347.7 C321.0 347.7 322.0 347.7 323.0 347.7 C324.0 347.7 325.0 347.6 326.0 347.6 C327.0 347.6 328.0 347.6 329.0 347.6 C330.0 347.6 331.0 347.6 332.0 347.6 C333.0 347.6 334.0 347.6 335.0 347.6 C336.0 347.6 337.0 347.6 338.0 347.6 C339.0 347.6 340.0 347.6 341.0 347.6 C342.0 347.6 343.0 347.6 344.0 347.5 C345.0 347.5 346.0 347.4 347.0 347.3 C347.9 347.1 348.9 346.9 349.8 346.6 C350.8 346.3 351.6 345.8 352.5 345.4 C353.4 344.9 354.3 344.4 355.2 344.0 C356.1 343.5 356.9 343.1 357.8 342.6 C358.7 342.1 359.6 341.6 360.5 341.1 C361.3 340.7 362.2 340.2 363.1 339.6 C363.9 339.1 364.8 338.6 365.6 338.0 C366.4 337.5 367.2 336.9 368.0 336.2 C368.7 335.6 369.4 334.9 370.1 334.1 C370.8 333.4 371.4 332.7 372.1 331.9 C372.8 331.2 373.4 330.4 374.0 329.6 C374.7 328.9 375.3 328.1 375.9 327.3 C376.6 326.5 377.2 325.7 377.7 324.9 C378.3 324.1 378.9 323.3 379.4 322.4 C379.9 321.6 380.5 320.7 381.0 319.9 C381.5 319.0 382.0 318.1 382.5 317.3 C383.0 316.4 383.5 315.6 384.0 314.7 C384.6 313.9 385.1 313.0 385.7 312.2 C386.2 311.4 386.8 310.5 387.4 309.7 C387.9 308.9 388.5 308.1 389.0 307.2 C389.5 306.3 389.9 305.5 390.4 304.6 C390.8 303.7 391.1 302.7 391.5 301.8 C391.9 300.9 392.3 300.0 392.7 299.1 C393.1 298.1 393.5 297.2 393.9 296.3 C394.3 295.4 394.7 294.5 395.1 293.5 C395.5 292.6 395.9 291.7 396.3 290.8 C396.6 289.8 397.0 288.9 397.3 288.0 C397.7 287.0 398.0 286.1 398.4 285.2 C398.7 284.2 399.0 283.3 399.4 282.3 C399.7 281.4 400.0 280.4 400.3 279.5 C400.7 278.5 401.0 277.6 401.3 276.7 C401.6 275.7 401.9 274.8 402.3 273.8 C402.6 272.9 402.9 271.9 403.2 271.0 C403.5 270.0 403.8 269.1 404.1 268.1 C404.4 267.1 404.7 266.2 405.0 265.2 C405.3 264.3 405.6 263.3 405.9 262.4 C406.2 261.4 406.4 260.4 406.7 259.5 C407.0 258.5 407.3 257.6 407.5 256.6 C407.8 255.6 408.1 254.7 408.3 253.7 C408.6 252.7 408.8 251.8 409.0 250.8 C409.3 249.8 409.5 248.9 409.8 247.9 C410.0 246.9 410.3 246.0 410.5 245.0 C410.8 244.0 411.0 243.0 411.3 242.1 C411.5 241.1 411.8 240.1 412.0 239.2 C412.3 238.2 412.6 237.2 412.8 236.3 C413.1 235.3 413.3 234.3 413.6 233.4 C413.8 232.4 414.1 231.4 414.4 230.5 C414.6 229.5 414.9 228.6 415.1 227.6 C415.4 226.6 415.7 225.7 415.9 224.7 C416.2 223.7 416.4 222.8 416.7 221.8 C417.0 220.8 417.2 219.9 417.5 218.9 C417.8 217.9 418.0 217.0 418.3 216.0 C418.6 215.0 418.8 214.1 419.1 213.1 C419.4 212.1 419.6 211.2 419.9 210.2 C420.2 209.3 420.4 208.3 420.7 207.3 C421.0 206.4 421.2 205.4 421.5 204.4 C421.8 203.5 422.1 202.5 422.3 201.6 C422.6 200.6 422.9 199.6 423.2 198.7 C423.4 197.7 423.7 196.8 424.0 195.8 C424.3 194.8 424.5 193.9 424.8 192.9 C425.1 192.0 425.4 191.0 425.7 190.0 C425.9 189.1 426.2 188.1 426.5 187.2 C426.8 186.2 427.1 185.2 427.4 184.3 C427.6 183.3 427.9 182.4 428.2 181.4 C428.5 180.4 428.8 179.5 429.0 178.5 C429.3 177.6 429.6 176.6 429.9 175.6 C430.2 174.7 430.5 173.7 430.7 172.8 C431.0 171.8 431.3 170.8 431.6 169.9 C431.8 168.9 432.1 167.9 432.3 167.0 C432.6 166.0 432.8 165.0 433.1 164.1 C433.3 163.1 433.6 162.1 433.8 161.2 C434.1 160.2 434.3 159.2 434.5 158.3 C434.8 157.3 435.0 156.3 435.2 155.3 C435.5 154.4 435.7 153.4 436.0 152.4 C436.2 151.4 436.4 150.5 436.7 149.5 C436.9 148.5 437.1 147.6 437.3 146.6 C437.6 145.6 437.8 144.6 438.0 143.7 C438.3 142.7 438.5 141.7 438.7 140.7 C438.9 139.8 439.1 138.8 439.4 137.8 C439.6 136.8 439.8 135.9 440.0 134.9 C440.3 133.9 440.5 132.9 440.7 132.0 C441.0 131.0 441.2 130.0 441.5 129.1 C441.7 128.1 442.0 127.1 442.2 126.2 C442.5 125.2 442.8 124.2 443.1 123.3 C443.4 122.3 443.7 121.4 444.0 120.4 C444.3 119.5 444.6 118.5 445.0 117.6 C445.3 116.7 445.7 115.7 446.0 114.8 C446.4 113.8 446.7 112.9 447.1 112.0 C447.5 111.1 447.8 110.1 448.2 109.2 C448.6 108.3 449.0 107.4 449.4 106.5 C449.8 105.5 450.3 104.6 450.7 103.8 C451.2 102.9 451.6 102.0 452.2 101.1 C452.7 100.3 453.2 99.4 453.8 98.6 C454.3 97.8 454.9 97.0 455.6 96.2 C456.2 95.5 456.9 94.7 457.6 94.0 C458.3 93.3 459.0 92.6 459.8 92.0 C460.5 91.3 461.3 90.6 462.1 90.1 C462.9 89.6 463.8 89.2 464.7 88.9 C465.6 88.7 466.6 88.6 467.6 88.7 C468.5 88.7 469.4 89.0 470.2 89.5 C471.0 89.9 471.7 90.6 472.3 91.4 C472.9 92.1 473.5 92.9 474.0 93.8 C474.6 94.6 475.1 95.5 475.5 96.4 C476.0 97.2 476.5 98.1 477.0 99.0 C477.4 99.9 477.9 100.8 478.3 101.7 C478.7 102.6 479.2 103.5 479.6 104.4 C480.0 105.3 480.4 106.2 480.9 107.1 C481.3 108.0 481.7 108.9 482.1 109.8 C482.5 110.7 482.9 111.7 483.3 112.6 C483.7 113.5 484.1 114.4 484.5 115.4 C484.8 116.3 485.2 117.2 485.5 118.2 C485.9 119.1 486.2 120.0 486.5 121.0 C486.7 122.0 487.0 122.9 487.3 123.9 C487.5 124.9 487.7 125.8 488.0 126.8 C488.2 127.8 488.4 128.7 488.7 129.7 C488.9 130.7 489.1 131.7 489.3 132.6 C489.6 133.6 489.8 134.6 490.0 135.6 C490.2 136.5 490.4 137.5 490.7 138.5 C490.9 139.5 491.1 140.5 491.3 141.4 C491.5 142.4 491.7 143.4 491.9 144.4 C492.1 145.3 492.3 146.3 492.5 147.3 C492.7 148.3 492.9 149.3 493.1 150.2 C493.3 151.2 493.5 152.2 493.7 153.2 C493.9 154.2 494.1 155.1 494.3 156.1 C494.5 157.1 494.7 158.1 494.9 159.1 C495.0 160.1 495.2 161.0 495.4 162.0 C495.6 163.0 495.8 164.0 496.0 165.0 C496.2 165.9 496.4 166.9 496.6 167.9 C496.8 168.9 497.1 169.8 497.3 170.8 C497.5 171.8 497.8 172.8 498.0 173.7 C498.3 174.7 498.5 175.7 498.8 176.6 C499.0 177.6 499.3 178.6 499.5 179.5 C499.7 180.5 500.0 181.5 500.2 182.5 C500.4 183.4 500.7 184.4 500.9 185.4 C501.1 186.4 501.3 187.3 501.6 188.3 C501.8 189.3 502.0 190.3 502.2 191.2 C502.4 192.2 502.6 193.2 502.8 194.2 C503.0 195.2 503.2 196.1 503.4 197.1 C503.6 198.1 503.8 199.1 504.0 200.1 C504.2 201.0 504.3 202.0 504.5 203.0 C504.7 204.0 504.9 205.0 505.1 206.0 C505.2 206.9 505.4 207.9 505.6 208.9 C505.8 209.9 505.9 210.9 506.1 211.9 C506.3 212.9 506.5 213.8 506.6 214.8 C506.8 215.8 507.0 216.8 507.2 217.8 C507.3 218.8 507.5 219.7 507.7 220.7 C507.9 221.7 508.0 222.7 508.2 223.7 C508.4 224.7 508.6 225.7 508.8 226.6 C508.9 227.6 509.1 228.6 509.3 229.6 C509.5 230.6 509.7 231.6 509.8 232.5 C510.0 233.5 510.2 234.5 510.4 235.5 C510.6 236.5 510.7 237.5 510.9 238.4 C511.1 239.4 511.3 240.4 511.5 241.4 C511.7 242.4 511.9 243.3 512.0 244.3 C512.2 245.3 512.4 246.3 512.6 247.3 C512.8 248.3 513.0 249.2 513.2 250.2 C513.4 251.2 513.6 252.2 513.8 253.2 C514.0 254.1 514.2 255.1 514.4 256.1 C514.6 257.1 514.8 258.1 515.0 259.0 C515.2 260.0 515.4 261.0 515.6 262.0 C515.8 263.0 516.0 263.9 516.2 264.9 C516.4 265.9 516.6 266.9 516.8 267.9 C517.0 268.8 517.2 269.8 517.4 270.8 C517.6 271.8 517.8 272.8 518.0 273.7 C518.2 274.7 518.4 275.7 518.6 276.7 C518.8 277.7 519.0 278.6 519.2 279.6 C519.4 280.6 519.5 281.6 519.7 282.6 C519.9 283.5 520.1 284.5 520.3 285.5 C520.5 286.5 520.7 287.5 520.9 288.4 C521.1 289.4 521.3 290.4 521.5 291.4 C521.7 292.4 521.9 293.4 522.1 294.3 C522.3 295.3 522.4 296.3 522.6 297.3 C522.8 298.3 523.0 299.2 523.2 300.2 C523.4 301.2 523.5 302.2 523.7 303.2 C523.9 304.2 524.1 305.2 524.2 306.1 C524.4 307.1 524.6 308.1 524.7 309.1 C524.9 310.1 525.1 311.1 525.2 312.1 C525.4 313.0 525.6 314.0 525.7 315.0 C525.9 316.0 526.1 317.0 526.3 318.0 C526.4 319.0 526.6 319.9 526.8 320.9 C526.9 321.9 527.1 322.9 527.3 323.9 C527.5 324.9 527.7 325.8 527.9 326.8 C528.1 327.8 528.3 328.8 528.6 329.7 C528.8 330.7 529.1 331.6 529.4 332.6 C529.7 333.5 530.0 334.5 530.3 335.5 C530.5 336.4 530.8 337.4 531.0 338.4 C531.3 339.3 531.5 340.3 531.8 341.3 C532.0 342.2 532.2 343.2 532.5 344.2 C532.7 345.1 533.0 346.1 533.2 347.1 C533.5 348.1 533.7 349.0 533.9 350.0 C534.2 351.0 534.4 351.9 534.7 352.9 C534.9 353.9 535.2 354.8 535.4 355.8 C535.7 356.8 535.9 357.7 536.2 358.7 C536.5 359.7 536.7 360.6 537.0 361.6 C537.2 362.6 537.5 363.5 537.8 364.5 C538.0 365.5 538.3 366.4 538.6 367.4 C538.8 368.4 539.1 369.3 539.4 370.3 C539.7 371.2 539.9 372.2 540.2 373.2 C540.5 374.1 540.7 375.1 541.0 376.1 C541.3 377.0 541.5 378.0 541.8 378.9 C542.1 379.9 542.3 380.9 542.6 381.8 C542.9 382.8 543.1 383.8 543.4 384.7 C543.6 385.7 543.9 386.7 544.2 387.6 C544.4 388.6 544.7 389.6 544.9 390.5 C545.2 391.5 545.5 392.5 545.7 393.4 C546.0 394.4 546.2 395.4 546.5 396.3 C546.8 397.3 547.0 398.2 547.3 399.2 C547.6 400.2 547.9 401.1 548.1 402.1 C548.4 403.1 548.7 404.0 549.0 405.0 C549.3 405.9 549.6 406.9 549.9 407.8 C550.2 408.8 550.5 409.7 550.9 410.7 C551.2 411.6 551.6 412.5 551.9 413.5 C552.3 414.4 552.7 415.3 553.0 416.3 C553.4 417.2 553.8 418.1 554.2 419.0 C554.7 419.9 555.1 420.8 555.5 421.7 C555.9 422.6 556.4 423.5 556.8 424.4 C557.2 425.3 557.7 426.2 558.1 427.1 C558.6 428.0 559.1 428.9 559.6 429.8 C560.0 430.6 560.5 431.5 561.0 432.4 C561.5 433.3 562.0 434.1 562.5 435.0 C563.1 435.8 563.6 436.6 564.2 437.5 C564.7 438.3 565.3 439.1 565.9 439.9 C566.5 440.7 567.1 441.5 567.7 442.3 C568.3 443.2 568.8 444.0 569.4 444.8 C570.0 445.6 570.6 446.4 571.3 447.1 C571.9 447.9 572.6 448.6 573.3 449.3 C574.0 450.0 574.8 450.7 575.5 451.4 C576.2 452.1 576.9 452.8 577.6 453.5 C578.3 454.2 579.0 454.9 579.7 455.6 C580.4 456.3 581.1 457.1 581.9 457.7 C582.6 458.4 583.3 459.1 584.1 459.8 C584.8 460.4 585.6 461.0 586.4 461.7 C587.2 462.3 588.0 462.9 588.8 463.4 C589.6 464.0 590.5 464.6 591.3 465.1 C592.1 465.6 593.0 466.2 593.9 466.6 C594.7 467.1 595.6 467.6 596.5 468.0 C597.4 468.4 598.4 468.8 599.3 469.2 C600.2 469.6 601.2 469.9 602.1 470.3 C603.0 470.6 604.0 470.9 604.9 471.2 C605.9 471.5 606.8 471.9 607.8 472.2 C608.7 472.5 609.7 472.8 610.6 473.2 C611.6 473.5 612.5 473.8 613.4 474.2 C614.4 474.5 615.3 474.8 616.3 475.1 C617.2 475.4 618.2 475.7 619.2 475.9 C620.1 476.2 621.1 476.4 622.1 476.6 C623.1 476.8 624.0 477.0 625.0 477.2 C626.0 477.4 627.0 477.6 628.0 477.8 C629.0 477.9 629.9 478.1 630.9 478.3 C631.9 478.4 632.9 478.6 633.9 478.7 C634.9 478.9 635.9 479.0 636.9 479.2 C637.8 479.3 638.8 479.4 639.8 479.6 C640.8 479.7 641.8 479.8 642.8 479.9 C643.8 480.0 644.8 480.1 645.8 480.2 C646.8 480.3 647.8 480.3 648.8 480.4 C649.8 480.5 650.8 480.5 651.8 480.6 C652.8 480.6 653.8 480.7 654.8 480.8 C655.8 480.8 656.8 480.8 657.8 480.9 C658.8 480.9 659.8 481.0 660.8 481.0 C661.8 481.1 662.8 481.1 663.8 481.1 C664.8 481.2 665.8 481.2 666.8 481.2 C667.8 481.3 668.8 481.3 669.8 481.3 C670.8 481.3 671.8 481.4 672.8 481.4 C673.8 481.4 674.8 481.4 675.8 481.4 C676.8 481.5 677.8 481.5 678.8 481.5 C679.8 481.5 680.8 481.5 681.8 481.6 C682.8 481.6 683.8 481.6 684.8 481.6 C685.8 481.6 686.8 481.7 687.8 481.7 C688.8 481.7 689.8 481.7 690.8 481.7 C691.8 481.7 692.8 481.7 693.8 481.8 C694.8 481.8 695.8 481.8 696.8 481.8 C697.8 481.8 698.8 481.8 699.8 481.9 C700.7 481.9 701.8 482.0 702.7 482.1 C703.5 482.2 704.5 482.4 704.8 482.6 C705.2 482.7 705.0 483.0 704.8 483.1 C704.6 483.3 703.6 483.4 703.4 483.5 C703.2 483.6 703.3 483.7 703.7 483.8 C704.2 483.8 705.2 483.9 706.1 483.9 C706.9 483.9 708.0 483.9 709.0 484.0 C710.0 484.0 711.0 484.0 712.0 484.0 C713.0 484.0 714.0 484.0 715.0 484.0 C716.0 484.0 717.0 484.0 718.0 484.0 C719.0 484.0 720.0 484.1 721.0 484.1 C722.0 484.1 723.0 484.1 724.0 484.1 C725.0 484.1 726.0 484.1 727.0 484.1 C728.0 484.1 729.0 484.1 730.0 484.1 C731.0 484.1 732.0 484.1 733.0 484.1 C734.0 484.1 735.0 484.1 736.0 484.1 C737.0 484.1 738.0 484.1 739.0 484.1 C740.0 484.1 741.0 484.1 742.0 484.1 C743.0 484.1 744.0 484.1 745.0 484.1 C746.0 484.1 747.0 484.1 748.0 484.1 C749.0 484.1 750.0 484.1 751.0 484.1 C752.0 484.1 753.0 484.1 754.0 484.1 C755.0 484.1 756.0 484.1 757.0 484.1 C758.0 484.1 759.0 484.1 760.0 484.1 C761.0 484.1 762.0 484.1 763.0 484.2 C764.0 484.2 765.0 484.2 766.0 484.2 C767.0 484.2 768.0 484.2 769.0 484.2 C770.0 484.2 771.0 484.2 772.0 484.2 C773.0 484.2 774.0 484.2 775.0 484.2 C776.0 484.2 777.0 484.2 778.0 484.2 C779.0 484.2 780.0 484.2 781.0 484.2 C782.0 484.2 783.0 484.2 784.0 484.2 C785.0 484.2 786.0 484.2 787.0 484.2 C788.0 484.2 789.0 484.2 790.0 484.2 C791.0 484.2 792.0 484.2 793.0 484.2 C794.0 484.2 795.0 484.2 796.0 484.2 C797.0 484.2 798.0 484.2 799.0 484.2 C800.0 484.2 801.0 484.2 802.0 484.2 C803.0 484.2 804.0 484.2 805.0 484.2 C806.0 484.2 807.0 484.2 808.0 484.2 C809.0 484.2 810.0 484.2 811.0 484.2 C812.0 484.2 813.0 484.2 814.0 484.2 C815.0 484.2 816.0 484.2 817.0 484.2 C818.0 484.2 819.0 484.2 820.0 484.2 C821.0 484.2 822.0 484.2 823.0 484.2 C824.0 484.2 825.0 484.2 826.0 484.2 C827.0 484.2 828.0 484.2 829.0 484.2 C830.0 484.2 831.0 484.2 832.0 484.2 C833.0 484.2 834.1 484.2 835.0 484.2 C835.9 484.2 837.1 484.2 837.5 484.2" fill="none" stroke="#050505" stroke-width="3.5" stroke-linejoin="round" stroke-linecap="round"/>
<path d="M371.2 478.2 C371.7 478.1 373.2 477.8 374.2 477.7 C375.1 477.5 376.1 477.3 377.1 477.1 C378.1 476.9 379.1 476.7 380.0 476.5 C381.0 476.2 382.0 476.0 382.9 475.7 C383.9 475.4 384.8 475.1 385.8 474.8 C386.7 474.5 387.7 474.2 388.6 473.8 C389.5 473.4 390.5 473.0 391.4 472.6 C392.3 472.2 393.2 471.8 394.0 471.3 C394.9 470.8 395.8 470.3 396.6 469.8 C397.5 469.2 398.3 468.7 399.1 468.1 C399.9 467.5 400.7 466.9 401.5 466.2 C402.2 465.6 403.0 465.0 403.7 464.3 C404.5 463.6 405.2 463.0 406.0 462.3 C406.7 461.6 407.4 460.9 408.1 460.2 C408.8 459.4 409.5 458.7 410.1 458.0 C410.8 457.2 411.5 456.5 412.1 455.7 C412.7 454.9 413.4 454.1 414.0 453.3 C414.6 452.6 415.2 451.7 415.7 450.9 C416.3 450.1 416.9 449.3 417.4 448.4 C417.9 447.6 418.5 446.8 419.0 445.9 C419.5 445.0 420.0 444.2 420.5 443.3 C421.0 442.4 421.4 441.5 421.9 440.7 C422.4 439.8 422.8 438.9 423.2 438.0 C423.6 437.1 424.1 436.1 424.5 435.2 C424.9 434.3 425.3 433.4 425.7 432.5 C426.0 431.6 426.4 430.6 426.8 429.7 C427.2 428.8 427.5 427.9 427.9 426.9 C428.3 426.0 428.6 425.1 429.0 424.1 C429.3 423.2 429.7 422.2 430.0 421.3 C430.3 420.4 430.7 419.4 431.0 418.5 C431.3 417.5 431.6 416.6 431.9 415.6 C432.2 414.7 432.5 413.7 432.9 412.8 C433.2 411.8 433.5 410.9 433.8 409.9 C434.1 409.0 434.4 408.0 434.7 407.0 C435.0 406.1 435.3 405.1 435.6 404.2 C435.9 403.2 436.2 402.3 436.5 401.3 C436.7 400.4 437.0 399.4 437.3 398.4 C437.6 397.5 437.9 396.5 438.2 395.6 C438.4 394.6 438.7 393.6 439.0 392.7 C439.3 391.7 439.5 390.8 439.8 389.8 C440.1 388.8 440.3 387.9 440.6 386.9 C440.9 385.9 441.1 385.0 441.4 384.0 C441.6 383.0 441.9 382.1 442.1 381.1 C442.4 380.1 442.6 379.2 442.9 378.2 C443.1 377.2 443.4 376.3 443.6 375.3 C443.9 374.3 444.1 373.3 444.4 372.4 C444.6 371.4 444.8 370.4 445.1 369.5 C445.3 368.5 445.6 367.5 445.8 366.6 C446.1 365.6 446.3 364.6 446.6 363.7 C446.8 362.7 447.1 361.7 447.3 360.8 C447.6 359.8 447.8 358.8 448.1 357.9 C448.4 356.9 448.6 355.9 448.9 355.0 C449.2 354.0 449.5 353.0 449.7 352.1 C450.0 351.1 450.3 350.2 450.6 349.2 C450.8 348.2 451.1 347.3 451.4 346.3 C451.6 345.3 451.9 344.4 452.2 343.4 C452.4 342.5 452.7 341.5 453.0 340.5 C453.2 339.6 453.5 338.6 453.7 337.6 C454.0 336.7 454.2 335.7 454.5 334.7 C454.7 333.7 455.0 332.8 455.2 331.8 C455.4 330.8 455.7 329.9 455.9 328.9 C456.1 327.9 456.3 326.9 456.5 326.0 C456.8 325.0 457.0 324.0 457.2 323.0 C457.4 322.0 457.6 321.1 457.8 320.1 C458.0 319.1 458.2 318.1 458.4 317.1 C458.6 316.2 458.8 315.2 459.0 314.2 C459.2 313.2 459.3 312.2 459.5 311.3 C459.7 310.3 459.9 309.3 460.1 308.3 C460.3 307.3 460.5 306.4 460.7 305.4 C460.9 304.4 461.0 303.4 461.2 302.4 C461.4 301.4 461.6 300.5 461.7 299.5 C461.9 298.5 462.1 297.5 462.2 296.5 C462.4 295.5 462.5 294.5 462.7 293.5 C462.9 292.6 463.0 291.6 463.1 290.6 C463.3 289.6 463.4 288.6 463.6 287.6 C463.7 286.6 463.9 285.6 464.0 284.6 C464.2 283.7 464.4 282.7 464.5 281.7 C464.7 280.7 464.8 279.7 465.0 278.7 C465.2 277.7 465.4 276.8 465.5 275.8 C465.7 274.8 465.9 273.8 466.1 272.8 C466.3 271.8 466.5 270.9 466.6 269.9 C466.8 268.9 467.0 267.9 467.2 266.9 C467.4 265.9 467.6 265.0 467.8 264.0 C468.0 263.0 468.2 262.0 468.4 261.0 C468.6 260.1 468.8 259.1 469.0 258.1 C469.2 257.1 469.4 256.1 469.6 255.2 C469.8 254.2 470.0 253.2 470.2 252.2 C470.4 251.2 470.5 250.3 470.7 249.3 C470.9 248.3 471.1 247.3 471.3 246.3 C471.5 245.4 471.7 244.4 471.9 243.4 C472.1 242.4 472.3 241.4 472.5 240.4 C472.7 239.5 472.9 238.5 473.1 237.5 C473.2 236.5 473.4 235.5 473.6 234.6 C473.8 233.6 474.0 232.6 474.2 231.6 C474.4 230.6 474.6 229.7 474.8 228.7 C475.0 227.7 475.2 226.7 475.4 225.7 C475.6 224.7 475.8 223.8 476.0 222.8 C476.1 221.8 476.3 220.8 476.5 219.8 C476.7 218.9 476.9 217.9 477.1 216.9 C477.3 215.9 477.5 214.9 477.7 214.0 C477.9 213.0 478.1 212.0 478.3 211.0 C478.5 210.0 478.7 209.0 478.9 208.1 C479.1 207.1 479.2 206.1 479.4 205.1 C479.6 204.1 479.8 203.2 480.0 202.2 C480.2 201.2 480.4 200.2 480.6 199.2 C480.8 198.3 481.0 197.3 481.2 196.3 C481.4 195.3 481.6 194.3 481.8 193.4 C482.0 192.4 482.2 191.4 482.4 190.4 C482.6 189.4 482.8 188.5 483.0 187.5 C483.2 186.5 483.4 185.5 483.6 184.5 C483.8 183.6 484.0 182.6 484.2 181.6 C484.4 180.6 484.6 179.6 484.8 178.7 C485.0 177.7 485.2 176.7 485.4 175.7 C485.7 174.8 485.9 173.8 486.1 172.8 C486.3 171.8 486.5 170.9 486.7 169.9 C487.0 168.9 487.2 167.9 487.4 166.9 C487.6 166.0 487.8 165.0 488.0 164.0 C488.2 163.0 488.4 162.1 488.7 161.1 C488.9 160.1 489.1 159.1 489.3 158.1 C489.5 157.2 489.7 156.2 489.9 155.2 C490.1 154.2 490.4 153.3 490.6 152.3 C490.8 151.3 491.1 150.3 491.3 149.4 C491.6 148.4 491.8 147.4 492.1 146.5 C492.4 145.5 492.7 144.6 493.0 143.6 C493.3 142.7 493.6 141.7 493.9 140.7 C494.1 139.8 494.4 138.8 494.7 137.9 C495.0 136.9 495.3 136.0 495.6 135.0 C495.8 134.0 496.1 133.1 496.4 132.1 C496.7 131.2 497.0 130.2 497.3 129.2 C497.5 128.3 497.8 127.3 498.2 126.4 C498.5 125.4 498.8 124.5 499.1 123.5 C499.5 122.6 499.8 121.7 500.2 120.7 C500.5 119.8 500.9 118.9 501.3 117.9 C501.7 117.0 502.1 116.1 502.4 115.2 C502.8 114.3 503.2 113.3 503.6 112.4 C504.0 111.5 504.4 110.6 504.8 109.6 C505.1 108.7 505.5 107.8 505.9 106.9 C506.3 105.9 506.7 105.0 507.0 104.1 C507.4 103.2 507.8 102.3 508.2 101.3 C508.6 100.4 509.0 99.5 509.4 98.6 C509.9 97.7 510.3 96.8 510.7 95.9 C511.2 95.0 511.6 94.1 512.1 93.3 C512.7 92.4 513.2 91.5 513.8 90.9 C514.5 90.2 515.2 89.5 516.1 89.1 C516.9 88.7 517.9 88.4 518.8 88.4 C519.7 88.3 520.7 88.5 521.5 88.8 C522.4 89.2 523.2 89.7 524.0 90.3 C524.7 90.9 525.4 91.7 526.1 92.4 C526.7 93.2 527.3 94.0 528.0 94.7 C528.6 95.5 529.2 96.3 529.7 97.2 C530.3 98.0 530.9 98.8 531.4 99.6 C532.0 100.5 532.5 101.3 533.1 102.1 C533.6 103.0 534.1 103.8 534.7 104.7 C535.2 105.5 535.7 106.4 536.2 107.3 C536.7 108.1 537.2 109.0 537.7 109.9 C538.1 110.7 538.6 111.6 539.0 112.6 C539.4 113.5 539.7 114.4 540.1 115.3 C540.4 116.3 540.8 117.2 541.1 118.2 C541.4 119.1 541.7 120.1 542.0 121.0 C542.3 122.0 542.6 122.9 542.9 123.9 C543.2 124.8 543.5 125.8 543.8 126.7 C544.1 127.7 544.4 128.7 544.7 129.6 C545.0 130.6 545.3 131.5 545.6 132.5 C545.9 133.4 546.2 134.4 546.4 135.4 C546.7 136.3 547.0 137.3 547.3 138.2 C547.6 139.2 547.9 140.1 548.2 141.1 C548.5 142.0 548.8 143.0 549.1 144.0 C549.4 144.9 549.7 145.9 549.9 146.8 C550.2 147.8 550.5 148.7 550.8 149.7 C551.1 150.7 551.4 151.6 551.6 152.6 C551.9 153.5 552.2 154.5 552.5 155.5 C552.8 156.4 553.0 157.4 553.3 158.3 C553.6 159.3 553.9 160.3 554.1 161.2 C554.4 162.2 554.7 163.2 555.0 164.1 C555.2 165.1 555.5 166.0 555.8 167.0 C556.1 168.0 556.3 168.9 556.6 169.9 C556.8 170.9 557.1 171.8 557.4 172.8 C557.6 173.8 557.9 174.7 558.1 175.7 C558.4 176.7 558.6 177.6 558.9 178.6 C559.1 179.6 559.4 180.5 559.6 181.5 C559.8 182.5 560.1 183.5 560.3 184.4 C560.6 185.4 560.8 186.4 561.0 187.3 C561.3 188.3 561.5 189.3 561.7 190.3 C562.0 191.2 562.2 192.2 562.4 193.2 C562.7 194.1 562.9 195.1 563.1 196.1 C563.4 197.1 563.6 198.0 563.8 199.0 C564.1 200.0 564.3 200.9 564.5 201.9 C564.8 202.9 565.0 203.9 565.2 204.8 C565.5 205.8 565.7 206.8 565.9 207.8 C566.2 208.7 566.4 209.7 566.6 210.7 C566.9 211.6 567.1 212.6 567.3 213.6 C567.6 214.6 567.8 215.5 568.1 216.5 C568.3 217.5 568.5 218.4 568.8 219.4 C569.0 220.4 569.3 221.4 569.5 222.3 C569.8 223.3 570.0 224.3 570.2 225.2 C570.5 226.2 570.7 227.2 571.0 228.1 C571.2 229.1 571.5 230.1 571.7 231.0 C572.0 232.0 572.2 233.0 572.5 233.9 C572.7 234.9 573.0 235.9 573.2 236.9 C573.5 237.8 573.7 238.8 574.0 239.8 C574.2 240.7 574.5 241.7 574.7 242.7 C575.0 243.6 575.2 244.6 575.5 245.6 C575.7 246.5 576.0 247.5 576.2 248.5 C576.5 249.4 576.7 250.4 577.0 251.4 C577.2 252.3 577.5 253.3 577.7 254.3 C578.0 255.3 578.2 256.2 578.5 257.2 C578.7 258.2 578.9 259.1 579.2 260.1 C579.4 261.1 579.7 262.0 579.9 263.0 C580.2 264.0 580.4 264.9 580.7 265.9 C580.9 266.9 581.2 267.9 581.4 268.8 C581.7 269.8 581.9 270.8 582.2 271.7 C582.4 272.7 582.7 273.7 582.9 274.6 C583.2 275.6 583.5 276.6 583.7 277.5 C584.0 278.5 584.2 279.5 584.5 280.4 C584.8 281.4 585.1 282.3 585.3 283.3 C585.6 284.3 585.9 285.2 586.2 286.2 C586.5 287.1 586.7 288.1 587.0 289.1 C587.3 290.0 587.6 291.0 587.9 291.9 C588.2 292.9 588.5 293.8 588.8 294.8 C589.1 295.8 589.4 296.7 589.7 297.7 C589.9 298.6 590.2 299.6 590.5 300.5 C590.8 301.5 591.1 302.4 591.4 303.4 C591.7 304.4 592.0 305.3 592.3 306.3 C592.6 307.2 592.9 308.2 593.2 309.1 C593.5 310.1 593.8 311.0 594.1 312.0 C594.4 312.9 594.7 313.9 595.0 314.9 C595.3 315.8 595.6 316.8 595.9 317.7 C596.2 318.7 596.5 319.6 596.8 320.6 C597.1 321.5 597.4 322.5 597.7 323.4 C598.0 324.4 598.3 325.3 598.6 326.3 C598.9 327.2 599.2 328.2 599.6 329.1 C599.9 330.1 600.2 331.0 600.5 332.0 C600.9 332.9 601.2 333.9 601.5 334.8 C601.9 335.7 602.3 336.7 602.6 337.6 C603.0 338.5 603.4 339.5 603.7 340.4 C604.1 341.3 604.5 342.2 604.9 343.2 C605.2 344.1 605.6 345.0 606.0 345.9 C606.4 346.9 606.8 347.8 607.2 348.7 C607.6 349.6 608.0 350.5 608.4 351.5 C608.8 352.4 609.2 353.3 609.6 354.2 C610.0 355.1 610.5 356.0 610.9 356.9 C611.3 357.8 611.8 358.7 612.2 359.6 C612.7 360.5 613.1 361.4 613.6 362.3 C614.0 363.2 614.5 364.0 614.9 364.9 C615.4 365.8 615.8 366.7 616.3 367.6 C616.7 368.5 617.1 369.4 617.6 370.3 C618.0 371.2 618.5 372.1 618.9 373.0 C619.4 373.9 620.0 374.7 620.5 375.5 C621.1 376.3 621.8 377.1 622.5 377.8 C623.1 378.5 623.9 379.2 624.6 379.9 C625.4 380.5 626.1 381.2 626.9 381.8 C627.6 382.5 628.3 383.2 629.0 383.9 C629.7 384.6 630.3 385.4 630.9 386.2 C631.5 387.0 632.0 387.9 632.5 388.7 C633.1 389.6 633.6 390.4 634.1 391.3 C634.6 392.1 635.1 393.0 635.7 393.9 C636.2 394.7 636.7 395.6 637.2 396.4 C637.7 397.3 638.2 398.2 638.7 399.0 C639.2 399.9 639.7 400.7 640.2 401.6 C640.7 402.5 641.2 403.3 641.8 404.2 C642.3 405.0 642.8 405.9 643.4 406.7 C643.9 407.5 644.5 408.4 645.1 409.2 C645.7 410.0 646.2 410.8 646.9 411.6 C647.5 412.4 648.1 413.2 648.8 413.9 C649.4 414.7 650.1 415.4 650.8 416.1 C651.5 416.8 652.3 417.5 653.0 418.1 C653.8 418.8 654.5 419.4 655.3 420.0 C656.1 420.6 656.9 421.2 657.7 421.9 C658.5 422.5 659.3 423.1 660.1 423.7 C660.9 424.3 661.7 424.9 662.4 425.5 C663.2 426.1 664.0 426.7 664.9 427.3 C665.7 427.9 666.5 428.4 667.4 428.9 C668.2 429.5 669.1 429.9 670.0 430.4 C670.9 430.8 671.8 431.2 672.7 431.7 C673.6 432.1 674.5 432.4 675.5 432.8 C676.4 433.2 677.3 433.6 678.2 433.9 C679.2 434.3 680.1 434.7 681.0 435.0 C682.0 435.4 682.9 435.7 683.8 436.1 C684.8 436.5 685.7 436.8 686.6 437.2 C687.6 437.5 688.5 437.9 689.5 438.2 C690.4 438.6 691.3 438.9 692.3 439.2 C693.2 439.6 694.2 439.9 695.1 440.2 C696.0 440.6 697.0 440.9 697.9 441.2 C698.9 441.5 699.8 441.8 700.8 442.1 C701.8 442.4 702.7 442.7 703.7 443.0 C704.6 443.2 705.6 443.5 706.6 443.8 C707.5 444.0 708.5 444.3 709.5 444.5 C710.4 444.8 711.4 445.0 712.4 445.3 C713.3 445.5 714.3 445.8 715.3 446.1 C716.2 446.3 717.2 446.6 718.2 446.9 C719.1 447.1 720.1 447.4 721.0 447.7 C722.0 448.0 723.0 448.3 723.9 448.6 C724.9 448.9 725.8 449.2 726.8 449.6 C727.7 449.9 728.6 450.2 729.6 450.5 C730.5 450.9 731.5 451.2 732.4 451.5 C733.4 451.9 734.3 452.2 735.2 452.6 C736.2 452.9 737.1 453.2 738.1 453.6 C739.0 453.9 739.9 454.3 740.9 454.6 C741.8 454.9 742.8 455.3 743.7 455.6 C744.6 455.9 745.6 456.3 746.5 456.6 C747.5 456.9 748.4 457.3 749.4 457.6 C750.3 457.9 751.2 458.3 752.2 458.6 C753.1 458.9 754.1 459.3 755.0 459.6 C755.9 460.0 756.9 460.3 757.8 460.6 C758.8 461.0 759.7 461.3 760.7 461.7 C761.6 462.0 762.5 462.3 763.5 462.6 C764.4 463.0 765.4 463.3 766.3 463.6 C767.3 463.9 768.2 464.2 769.2 464.5 C770.1 464.8 771.1 465.1 772.1 465.4 C773.0 465.7 774.0 465.9 774.9 466.2 C775.9 466.4 776.9 466.7 777.9 466.9 C778.8 467.1 779.8 467.3 780.8 467.5 C781.8 467.6 782.8 467.8 783.8 468.0 C784.8 468.1 785.7 468.2 786.7 468.4 C787.7 468.5 788.7 468.6 789.7 468.7 C790.7 468.8 791.7 468.9 792.7 469.0 C793.7 469.1 794.7 469.2 795.7 469.3 C796.7 469.4 797.7 469.5 798.7 469.6 C799.7 469.7 800.7 469.9 801.6 470.0 C802.6 470.1 803.6 470.2 804.6 470.4 C805.6 470.5 806.6 470.7 807.6 470.8 C808.6 470.9 809.6 471.1 810.6 471.2 C811.6 471.4 812.5 471.5 813.5 471.6 C814.5 471.8 815.5 471.9 816.5 472.1 C817.5 472.2 818.5 472.3 819.5 472.5 C820.5 472.6 821.4 472.8 822.4 472.9 C823.4 473.1 824.4 473.2 825.4 473.3 C826.4 473.5 827.4 473.6 828.4 473.8 C829.4 473.9 830.4 474.1 831.3 474.2 C832.3 474.3 833.3 474.5 834.3 474.6 C835.3 474.8 836.8 475.0 837.3 475.1" fill="none" stroke="#a0127a" stroke-width="3.5" stroke-linejoin="round" stroke-linecap="round"/>
<rect x="71.4" y="41.6" width="293.5" height="83.3" fill="#fff" stroke="#222" stroke-width="1.6"/>
<line x1="91.4" y1="60.5" x2="199.4" y2="60.5" stroke="#a0127a" stroke-width="2.6"/>
<line x1="91.4" y1="103.4" x2="199.4" y2="103.4" stroke="#a89fb0" stroke-width="1.8" stroke-dasharray="2.6 1.3"/>
<text y="74" font-size="32.5"><tspan x="210.8" letter-spacing="2.5">CF</tspan><tspan x="251.4" y="70.3" font-size="27.5" font-weight="bold" style="font-family:'Liberation Sans',sans-serif;font-stretch:normal">®</tspan><tspan x="273.9" y="74" letter-spacing="0.9">680</tspan></text>
<text y="117.4" font-size="32.5"><tspan x="210.8" letter-spacing="2.5">CF</tspan><tspan x="251.4" y="113.7" font-size="27.5" font-weight="bold" style="font-family:'Liberation Sans',sans-serif;font-stretch:normal">®</tspan><tspan x="273.9" y="117.4" letter-spacing="0.9">680R</tspan></text>
<g font-size="34" text-anchor="middle" letter-spacing="-0.9">
<text x="61.0" y="550.9">550</text>
<text x="215.5" y="550.9">600</text>
<text x="372.6" y="550.9">650</text>
<text x="528.9" y="550.9">700</text>
<text x="684.5" y="550.9">750</text>
<text x="839.4" y="550.9">800</text>
</g>
<text x="321.5" y="582" font-size="34" textLength="184" lengthAdjust="spacingAndGlyphs">Wavelength</text><text x="510.3" y="582" font-size="34" textLength="66" lengthAdjust="spacingAndGlyphs">(nm)</text>
<text transform="translate(51.2,337.4) rotate(-90)" font-size="33" textLength="170" lengthAdjust="spacing" style="stroke-width:0.2px">Absorption</text>
<text transform="translate(852.4,189) rotate(90)" font-size="32" textLength="135.5" lengthAdjust="spacing" style="stroke-width:0.2px">Emission</text>
</svg>
</body></html>
